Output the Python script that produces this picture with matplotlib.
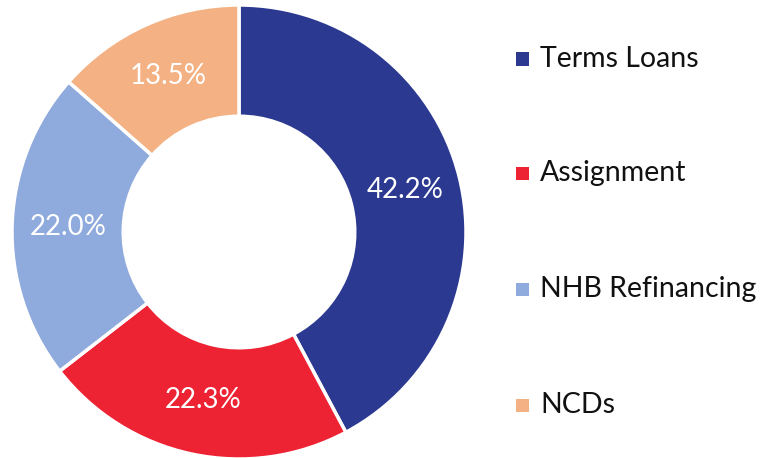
import matplotlib.pyplot as plt
from matplotlib.patches import Rectangle

plt.rcParams['font.family'] = ['Lato', 'DejaVu Sans']

# Borrowing mix (share of total, %)
labels = ['Terms Loans', 'Assignment', 'NHB Refinancing', 'NCDs']
shares = [42.2, 22.3, 22.0, 13.5]
colors = ['#2B3990', '#ED2232', '#8FAADC', '#F4B183']

W, H = 760, 458
fig = plt.figure(figsize=(W / 100, H / 100), dpi=100)

# Donut axes: centre at (239, 232) px, outer radius 227 px
cx, cy, r = 239, 232, 227
ax = fig.add_axes([(cx - r) / W, (H - cy - r) / H, 2 * r / W, 2 * r / H])
wedges, texts, autotexts = ax.pie(
    shares, colors=colors, startangle=90, counterclock=False,
    radius=1.0, autopct='%.1f%%', pctdistance=0.755,
    wedgeprops=dict(width=0.49, edgecolor='white', linewidth=2.5),
    textprops=dict(color='white', fontsize=20))
ax.set_xlim(-1, 1)
ax.set_ylim(-1, 1)
ax.set_aspect('equal')
ax.axis('off')

# Legend on the right, one entry per row
rows_y = [59, 173, 289, 405]
for lab, col, y in zip(labels, colors, rows_y):
    fig.patches.append(Rectangle(((516) / W, (H - y - 6.5) / H), 13 / W, 13 / H,
                                 facecolor=col, edgecolor='none',
                                 transform=fig.transFigure, figure=fig))
    fig.text(540 / W, (H - y) / H, lab, fontsize=20.5, color='#111111',
             va='center', ha='left')

fig.savefig('out.png', dpi=100)
